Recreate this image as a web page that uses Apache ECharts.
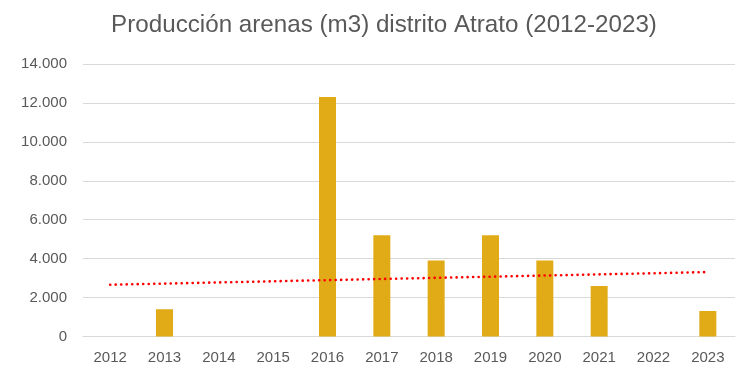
<!DOCTYPE html>
<html>
<head>
<meta charset="utf-8">
<script src="https://cdn.jsdelivr.net/npm/echarts@6/dist/echarts.min.js"></script>
<style>
  html, body { margin: 0; padding: 0; background: #fff; }
  #chart { width: 740px; height: 375px; }
</style>
</head>
<body>
<div id="chart"></div>
<script>
// Sand production (m3) per year, Atrato district
const years = ['2012', '2013', '2014', '2015', '2016', '2017', '2018', '2019', '2020', '2021', '2022', '2023'];
const production = [0, 1400, 0, 0, 12300, 5200, 3900, 5200, 3900, 2600, 0, 1310];
const yTicks = [0, 2000, 4000, 6000, 8000, 10000, 12000, 14000];

// Linear least-squares trend over the yearly values
function linearTrend(values) {
  const n = values.length;
  const mx = (n - 1) / 2;
  const my = values.reduce((a, b) => a + b, 0) / n;
  let num = 0, den = 0;
  values.forEach((v, i) => { num += (i - mx) * (v - my); den += (i - mx) * (i - mx); });
  const slope = num / den;
  return values.map((_, i) => my + slope * (i - mx));
}
const trend = linearTrend(production);

function fmtThousands(v) {
  return String(v).replace(/\B(?=(\d{3})+(?!\d))/g, '.');
}

const chart = echarts.init(document.getElementById('chart'), null, { renderer: 'canvas' });
chart.setOption({
  animation: false,
  backgroundColor: '#ffffff',
  title: {
    text: 'Producción arenas (m3) distrito Atrato (2012-2023)',
    left: 379,
    textAlign: 'center',
    top: 8,
    textStyle: {
      fontFamily: '"Liberation Sans", Arial, sans-serif',
      fontWeight: 'normal',
      fontSize: 24.2,
      color: '#595959'
    }
  },
  grid: { left: 83, right: 5, top: 64, bottom: 38.5 },
  xAxis: {
    type: 'category',
    data: years,
    boundaryGap: true,
    axisLine: { show: true, lineStyle: { color: '#d9d9d9', width: 1 } },
    axisTick: { show: false },
    axisLabel: {
      color: '#595959',
      fontFamily: '"Liberation Sans", Arial, sans-serif',
      fontSize: 15,
      margin: 14
    }
  },
  yAxis: {
    type: 'value',
    min: yTicks[0],
    max: yTicks[yTicks.length - 1],
    interval: 2000,
    axisLine: { show: false },
    axisTick: { show: false },
    splitLine: { lineStyle: { color: '#d9d9d9', width: 1 } },
    axisLabel: {
      color: '#595959',
      fontFamily: '"Liberation Sans", Arial, sans-serif',
      fontSize: 15,
      margin: 16,
      formatter: fmtThousands
    }
  },
  series: [
    {
      type: 'bar',
      data: production,
      barWidth: 17,
      itemStyle: { color: '#e1ab17' }
    },
    {
      type: 'line',
      data: trend,
      symbol: 'none',
      lineStyle: { color: '#ff0000', width: 2.6, type: [0.1, 5.4], cap: 'round' },
      z: 3
    }
  ]
});
</script>
</body>
</html>
